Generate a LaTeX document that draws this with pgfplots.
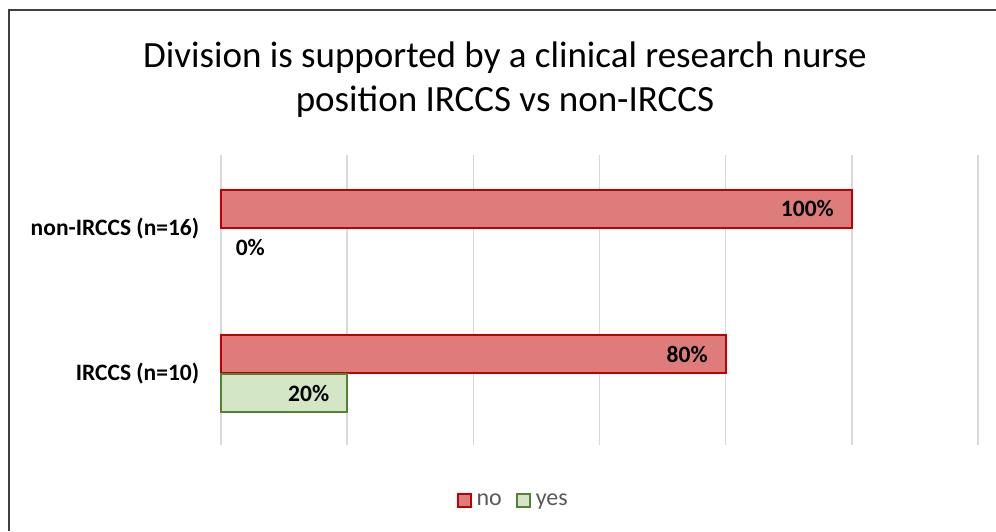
\documentclass[border=0pt]{standalone}
\usepackage{pgfplots}
\pgfplotsset{compat=1.18}
\usepackage{fontspec}
\setmainfont{Carlito}
\definecolor{noFill}{RGB}{222,124,124}
\definecolor{noEdge}{RGB}{192,0,0}
\definecolor{yesFill}{RGB}{211,231,198}
\definecolor{yesEdge}{RGB}{84,130,53}
\definecolor{gridc}{RGB}{217,217,217}
\definecolor{legtext}{RGB}{89,89,89}
\definecolor{framec}{RGB}{64,64,64}
\begin{document}
\begin{tikzpicture}[x=1pt,y=1pt]
\useasboundingbox (0,0) rectangle (996,-531);
\draw[framec, line width=2pt] (9,-531) -- (9,-10) -- (996,-10);
\node[font=\fontsize{37}{44}\selectfont, align=center, text=black] at (505,-80) {Division is supported by a clinical research nurse\\position IRCCS vs non-IRCCS};
\begin{axis}[
  at={(221pt,-445pt)}, anchor=south west,
  scale only axis, width=757pt, height=290pt,
  xbar, xmin=0, xmax=120, ymin=-0.49, ymax=1.505,
  xtick={0,20,...,120}, xticklabels={},
  xmajorgrids, major grid style={gridc, line width=1.6pt},
  ytick={0,1}, yticklabels={\textbf{IRCCS (n=10)},\textbf{non-IRCCS (n=16)}},
  yticklabel style={font=\fontsize{23.5}{26}\selectfont, text=black, xshift=-14pt},
  axis line style={draw=none}, tick style={draw=none},
  axis x line*=bottom, axis y line*=left,
  bar width=38pt,
  /pgf/number format/assume math mode=true,
  nodes near coords={\pgfmathprintnumber{\pgfplotspointmeta}\%},
  every node near coord/.append style={font=\fontsize{23.5}{26}\selectfont\bfseries, text=black, anchor=east, inner sep=0pt, xshift=-17pt},
  clip=false,
  legend style={at={(0.386,-0.19)}, anchor=center, draw=none, legend columns=2, font=\fontsize{24}{26}\selectfont, text=legtext, /tikz/every even column/.append style={column sep=12pt}, /tikz/every odd column/.append style={column sep=3pt}},
  legend image code/.code={\draw[#1, line width=2pt] (0pt,-6.5pt) rectangle (13pt,6.5pt);},
]
\addplot[fill=noFill, draw=noEdge, line width=2pt, bar shift=19.5pt] coordinates {(80,0) (100,1)};
\addlegendentry{no}
\addplot[fill=yesFill, draw=yesEdge, line width=2pt, bar shift=-19.5pt] coordinates {(20,0)};
\addlegendentry{yes}
\addplot[draw=none, fill=none, bar shift=-19.5pt, forget plot,
  every node near coord/.append style={xshift=61pt}] coordinates {(0,1)};
\end{axis}
\end{tikzpicture}
\end{document}
